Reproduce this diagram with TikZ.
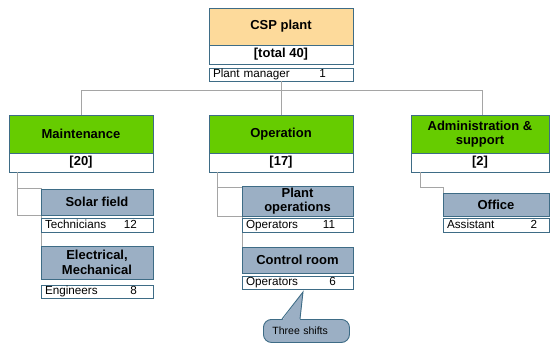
\documentclass[tikz,border=0pt]{standalone}
\usepackage{fontspec}
\setmainfont{Liberation Sans}
\usetikzlibrary{calc}
\definecolor{bordc}{RGB}{62,108,134}
\definecolor{orangec}{RGB}{253,218,155}
\definecolor{greenc}{RGB}{102,204,0}
\definecolor{bluec}{RGB}{155,175,196}
\definecolor{linec}{RGB}{165,165,165}
\tikzset{
  box/.style={draw=bordc, line width=0.9bp, anchor=north west, inner sep=0pt, outer sep=0pt, align=center},
  hdr/.style={box, font=\fontsize{13bp}{14.5bp}\selectfont\bfseries},
  topbox/.style={hdr, fill=orangec},
  grbox/.style={hdr, fill=greenc},
  bgbox/.style={hdr, fill=bluec},
  totbox/.style={hdr, fill=white},
  cntbox/.style={draw=bordc, line width=0.9bp, anchor=north west, fill=white, inner xsep=4bp, inner ysep=0pt, outer sep=0pt, text height=9bp, text depth=2.5bp, font=\fontsize{11.7bp}{13bp}\selectfont},
  conn/.style={draw=linec, line width=1bp},
}
\newcommand{\cntline}[3]{#1\hfill #2\rule{#3}{0pt}}
\begin{document}
\begin{tikzpicture}[x=1bp,y=-1bp]
\useasboundingbox (0,0) rectangle (550,344);
% ---- top
\node[topbox, minimum width=144bp, minimum height=37bp] (csp) at (209,8) {CSP plant};
\node[totbox, minimum width=144bp, minimum height=19bp] (csptot) at (209,45) {[total 40]};
\node[cntbox, text width=136bp, minimum height=13bp] (pm) at (209,68) {\cntline{Plant manager}{1}{23bp}};

% ---- department heads
\node[grbox, minimum width=144bp, minimum height=38bp] (maint) at (9,115) {Maintenance};
\node[totbox, minimum width=144bp, minimum height=19bp] (maintot) at (9,153) {[20]};
\node[grbox, minimum width=144bp, minimum height=38bp] (oper) at (209,115) {Operation};
\node[totbox, minimum width=144bp, minimum height=19bp] (opertot) at (209,153) {[17]};
\node[grbox, minimum width=138bp, minimum height=38bp] (admin) at (411,115) {Administration \&\\support};
\node[totbox, minimum width=138bp, minimum height=19bp] (admintot) at (411,153) {[2]};

% ---- top connectors
\coordinate (hbar) at ($(pm.south)+(0,9)$);
\draw[conn] (pm.south) -- (hbar);
\draw[conn] ($(maint.north)+(0,-25)$) -- (maint.north);
\draw[conn] ($(maint.north)+(0,-25)$) -- ($(admin.north)+(2,-25)$) -- ($(admin.north)+(2,0)$);
\draw[conn] ($(oper.north)+(0,-25)$) -- (oper.north);

% ---- branch connectors (drawn before the boxes)
\coordinate (mA) at ($(maintot.south west)+(8,0)$);
\coordinate (oA) at ($(opertot.south west)+(8,0)$);
\coordinate (aA) at ($(admintot.south west)+(9,0)$);
\draw[conn] (mA) -- (9+8,215) -- (41,215);
\draw[conn] (9+8,188) -- (41,188) -- (41,246);
\draw[conn] (oA) -- (209+8,216) -- (242,216);
\draw[conn] (209+8,187) -- (242,187) -- (242,247);
\draw[conn] (aA) -- (420,187) -- (443,187) -- (443,193);

% ---- sub units
\node[bgbox, minimum width=112bp, minimum height=26bp] (solar) at (41,189) {Solar field};
\node[cntbox, text width=104bp, minimum height=14bp] (tech) at (41,218) {\cntline{Technicians}{12}{12bp}};
\node[bgbox, minimum width=112bp, minimum height=33bp] (elec) at (41,246) {Electrical,\\Mechanical};
\node[cntbox, text width=104bp, minimum height=13bp] (eng) at (41,285) {\cntline{Engineers}{8}{12bp}};

\node[bgbox, minimum width=111bp, minimum height=30bp] (plops) at (242,186) {Plant\\operations};
\node[cntbox, text width=103bp, minimum height=14bp] (ops1) at (242,218) {\cntline{Operators}{11}{14bp}};
\node[bgbox, minimum width=111bp, minimum height=26bp] (ctrl) at (242,247) {Control room};
\node[cntbox, text width=103bp, minimum height=13bp] (ops2) at (242,276) {\cntline{Operators}{6}{13bp}};

\node[bgbox, minimum width=106bp, minimum height=23bp] (office) at (443,193) {Office};
\node[cntbox, text width=98bp, minimum height=14bp] (assist) at (443,218) {\cntline{Assistant}{2}{8bp}};

% ---- callout
\node[draw=bordc, line width=0.9bp, fill=bluec, rounded corners=8bp, anchor=north west, text width=68bp, inner xsep=9bp, minimum height=23bp, align=left, font=\fontsize{10.5bp}{12bp}\selectfont] (shifts) at (263,319) {Three shifts};
\coordinate (tip) at ($(ops2.south west)+(61,3)$);
\fill[bluec] ($(shifts.north west)+(19,1.5)$) -- (tip) -- ($(shifts.north west)+(37,1.5)$) -- cycle;
\draw[bordc, line width=0.9bp] ($(shifts.north west)+(19,0)$) -- (tip) -- ($(shifts.north west)+(37,0)$);
\end{tikzpicture}
\end{document}
